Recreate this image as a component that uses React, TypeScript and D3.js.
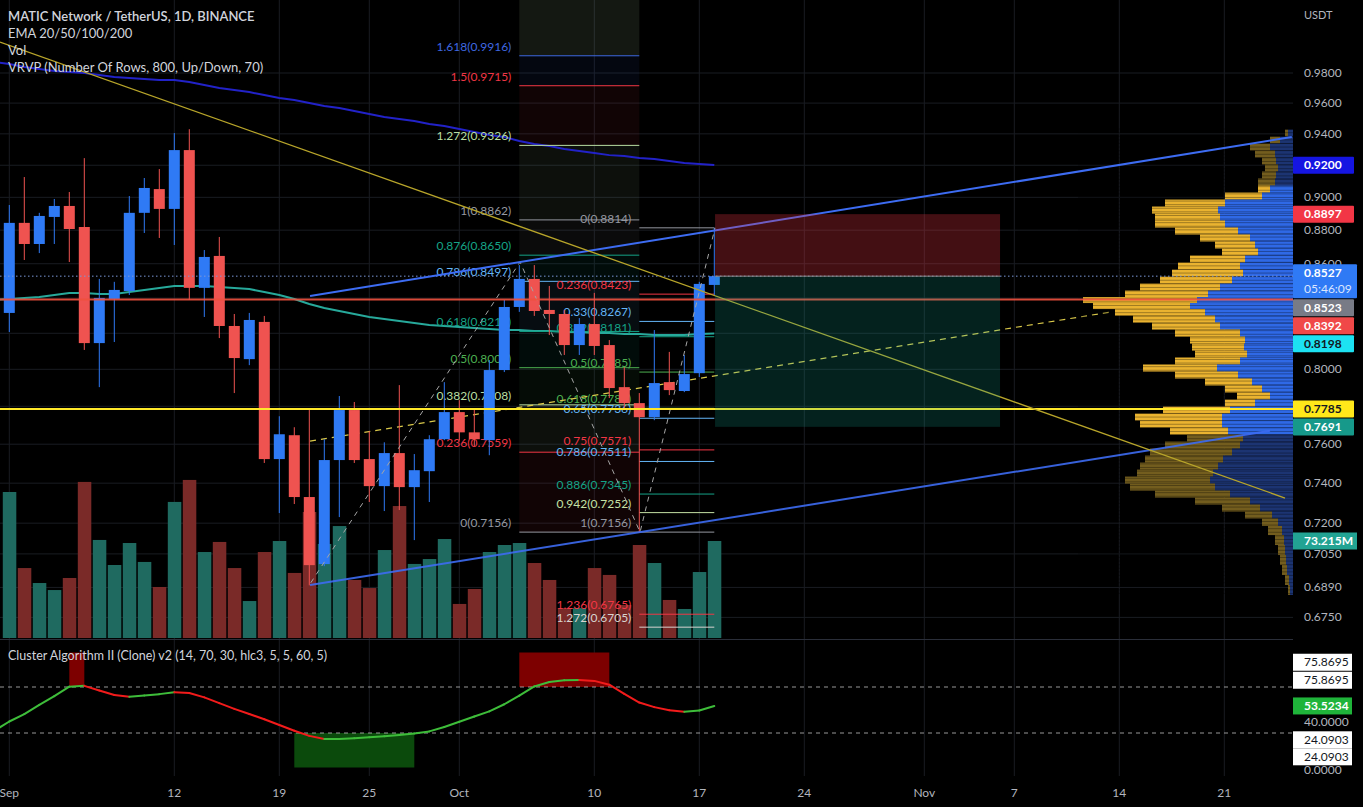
import * as d3 from "d3";

// ---- data (MATICUSDT 1D, Sep 1 .. Oct 18 2022) ----
const opens = [0.8315, 0.8844, 0.8717, 0.888, 0.8947, 0.8819, 0.8145, 0.8395, 0.8441, 0.8905, 0.9051, 0.8929, 0.9296, 0.8459, 0.8646, 0.8241, 0.8056, 0.8264, 0.7523, 0.7647, 0.733, 0.7001, 0.7518, 0.778, 0.7523, 0.7385, 0.7554, 0.738, 0.7461, 0.7626, 0.7769, 0.7662, 0.7621, 0.7996, 0.8349, 0.8511, 0.8332, 0.8309, 0.8134, 0.8252, 0.8134, 0.7903, 0.7817, 0.7742, 0.793, 0.7882, 0.7979, 0.8476];
const highs = [0.8953, 0.9126, 0.8905, 0.899, 0.9033, 0.9245, 0.8511, 0.8494, 0.9008, 0.912, 0.9176, 0.9405, 0.943, 0.8681, 0.8759, 0.8309, 0.8315, 0.8298, 0.7747, 0.7689, 0.778, 0.7626, 0.7855, 0.7823, 0.7668, 0.761, 0.7914, 0.7549, 0.7647, 0.793, 0.7833, 0.779, 0.8051, 0.8389, 0.8592, 0.8592, 0.847, 0.8332, 0.8286, 0.843, 0.8162, 0.8012, 0.7871, 0.8218, 0.8096, 0.8079, 0.8494, 0.8814];
const lows = [0.8207, 0.8622, 0.8663, 0.8717, 0.861, 0.8107, 0.7903, 0.8151, 0.8418, 0.8783, 0.8753, 0.8711, 0.8389, 0.8292, 0.8173, 0.7871, 0.8023, 0.7503, 0.725, 0.7295, 0.69, 0.6991, 0.723, 0.7503, 0.7305, 0.726, 0.7265, 0.7117, 0.7305, 0.7621, 0.7621, 0.759, 0.7543, 0.7985, 0.8321, 0.8298, 0.819, 0.8079, 0.8079, 0.8079, 0.7844, 0.778, 0.7156, 0.7726, 0.786, 0.7876, 0.7958, 0.8418];
const closes = [0.8844, 0.8717, 0.8886, 0.8947, 0.8807, 0.8145, 0.8401, 0.8447, 0.8905, 0.9058, 0.8929, 0.9296, 0.8459, 0.864, 0.8241, 0.8062, 0.8275, 0.7523, 0.7652, 0.733, 0.6996, 0.7518, 0.778, 0.7518, 0.7385, 0.7554, 0.738, 0.7466, 0.7626, 0.7769, 0.7662, 0.7626, 0.7996, 0.8349, 0.8511, 0.8326, 0.8309, 0.8134, 0.8252, 0.8129, 0.7898, 0.7817, 0.7742, 0.7925, 0.7887, 0.7974, 0.8482, 0.8527];
// volume in millions
const volumes = [110.2, 52.8, 41.5, 36.2, 45.3, 117.8, 74.0, 55.1, 71.7, 57.4, 38.5, 102.7, 119.3, 64.9, 72.5, 52.8, 27.9, 64.9, 73.2, 49.1, 95.1, 71.0, 84.5, 43.8, 37.7, 66.4, 99.6, 55.9, 59.6, 74.7, 25.7, 37.0, 64.9, 70.2, 71.7, 56.6, 43.8, 22.6, 22.6, 52.8, 47.6, 24.9, 70.2, 56.6, 28.7, 21.9, 49.8, 73.215];
// these start one day earlier (Aug 31)
const emaFast = [0.839, 0.8395, 0.84, 0.8406, 0.8418, 0.8429, 0.8429, 0.8423, 0.8423, 0.8435, 0.8446, 0.8458, 0.847, 0.847, 0.847, 0.8464, 0.8458, 0.8452, 0.8435, 0.8418, 0.8395, 0.8366, 0.8343, 0.8326, 0.8309, 0.8292, 0.828, 0.8269, 0.8258, 0.8246, 0.8241, 0.8235, 0.823, 0.8224, 0.8218, 0.8218, 0.8213, 0.8213, 0.8207, 0.8207, 0.8201, 0.8201, 0.8196, 0.8196, 0.819, 0.819, 0.819, 0.8196, 0.8198];
const emaSlow = [0.9874, 0.9861, 0.984, 0.9827, 0.9813, 0.9807, 0.98, 0.9787, 0.9773, 0.9767, 0.976, 0.9753, 0.9753, 0.974, 0.972, 0.97, 0.9687, 0.9673, 0.9653, 0.9634, 0.962, 0.9601, 0.9581, 0.9568, 0.9548, 0.9529, 0.9509, 0.9496, 0.9483, 0.9464, 0.9451, 0.9431, 0.9412, 0.9393, 0.938, 0.9354, 0.9335, 0.9322, 0.9303, 0.929, 0.9277, 0.9264, 0.9258, 0.9246, 0.924, 0.9227, 0.9214, 0.9208, 0.9201];
const cluster = [32, 40, 46.5, 54.5, 62, 70.3, 71, 67, 63, 61.6, 62.6, 63.8, 65.4, 64.8, 61, 56, 51, 46.5, 42, 37, 32, 27.5, 24.8, 24.8, 25.5, 26.3, 27.2, 28.3, 29.6, 31.4, 35.2, 39.8, 44.3, 48.8, 55, 62.5, 70.5, 74.4, 75.8, 76, 75.3, 72, 64, 56.5, 52.5, 49.8, 48.5, 49.5, 53.5];

// cluster zones: [fromDay, toDay, top, bottom]
const obZones = [[4, 5, 100, 70], [34, 40, 100, 70]];
const osZones = [[19, 27, 30, 0]];

// visible range volume profile rows
const vpPrice = [0.9405, 0.936, 0.9316, 0.9271, 0.9227, 0.9183, 0.9139, 0.9095, 0.9051, 0.9008, 0.8965, 0.8922, 0.8879, 0.8837, 0.8795, 0.8753, 0.8711, 0.8669, 0.8628, 0.8586, 0.8545, 0.8504, 0.8464, 0.8423, 0.8389, 0.8354, 0.832, 0.828, 0.8241, 0.8201, 0.8162, 0.8123, 0.8084, 0.8046, 0.8007, 0.7969, 0.7931, 0.7893, 0.7855, 0.7817, 0.778, 0.7743, 0.7706, 0.7669, 0.7632, 0.7596, 0.7559, 0.7523, 0.7487, 0.7451, 0.7416, 0.738, 0.7345, 0.731, 0.7275, 0.724, 0.7206, 0.7166, 0.7117, 0.7069, 0.702, 0.6973, 0.6925, 0.6878];
const vpUp = [2.5, 6.5, 11.5, 9, 8.5, 7.5, 8.5, 9, 11.5, 15.5, 34, 37.5, 36.5, 34, 27.5, 21.5, 19, 17.5, 24, 26.5, 25, 30.5, 36.5, 42.5, 48, 51.5, 44, 39, 36.5, 26.5, 24, 24.5, 23, 26.5, 38, 27.5, 20.5, 15.5, 11.5, 19, 31.5, 35.5, 35.5, 32.5, 25, 26.5, 30.5, 35, 37.5, 40, 41.5, 39, 31.5, 21.5, 16.5, 10.5, 7.5, 5.5, 4.5, 4, 3.5, 3, 2, 1.5];
const vpDown = [1.5, 5, 10, 10, 7, 6.5, 7, 8.5, 6, 18.5, 30, 33, 32.5, 35, 31.5, 25, 20, 18, 27.5, 31, 35.5, 36, 40, 41.5, 57, 48.5, 45, 41, 34, 32.5, 27.5, 26, 26, 32.5, 37, 31.5, 23.5, 18.5, 16.5, 15, 33.5, 43.5, 41, 29, 28, 37.5, 41, 39, 39, 38, 42.5, 42.5, 37.5, 27.5, 19, 13.5, 8, 7, 4.5, 3.5, 3, 2.5, 2, 1];
const vaHigh = 0.9051;
const vaLow = 0.7669;

// drawings: [day offset from Sep 1, price]
const trendYellow = [[-0.62, 1.001], [85.05, 0.7325]];
const channelUpper = [[20.05, 0.8412], [85.5, 0.938]];
const channelLower = [[20.05, 0.6901], [84.05, 0.767]];
const channelMid = [[20.05, 0.7616], [73.4, 0.832]];
const zigzag = [[20.1, 0.6912], [34.05, 0.861], [42.05, 0.7156], [47.05, 0.8814]];

const fibA = { from: 34, to: 42, p0: 0.7156, p1: 0.8862 };
const fibALevels = [0, 0.236, 0.382, 0.5, 0.618, 0.786, 0.876, 1, 1.272, 1.5, 1.618];
const fibAColors = ["#9598a1", "#f23645", "#b9dfa3", "#4caf50", "#15a387", "#64b5f6", "#15a387", "#9598a1", "#b9dfa3", "#f23645", "#3f68e0"];
const fibB = { from: 42, to: 47, p0: 0.8814, p1: 0.7156 };
const fibBLevels = [0, 0.236, 0.33, 0.382, 0.5, 0.618, 0.65, 0.75, 0.786, 0.886, 0.942, 1, 1.236, 1.272];
const fibBColors = ["#9598a1", "#f23645", "#64b5f6", "#15a387", "#4caf50", "#4caf50", "#64b5f6", "#f23645", "#64b5f6", "#15a387", "#c5e1a5", "#9598a1", "#f23645", "#d8d4d0"];

const position = { from: 47.05, to: 66.05, stop: 0.8897, entry: 0.8527, target: 0.7691 };
const hLineRed = 0.8392;
const hLineYellow = 0.7785;

const priceTicks = [0.98, 0.96, 0.94, 0.92, 0.9, 0.88, 0.86, 0.84, 0.82, 0.8, 0.78, 0.76, 0.74, 0.72, 0.705, 0.689, 0.675];
const priceTickHidden = [0.92, 0.84, 0.82, 0.78];
const timeTicks = [["2022-09-01", "Sep"], ["2022-09-12", "12"], ["2022-09-19", "19"], ["2022-09-25", "25"], ["2022-10-01", "Oct"], ["2022-10-10", "10"], ["2022-10-17", "17"], ["2022-10-24", "24"], ["2022-11-01", "Nov"], ["2022-11-07", "7"], ["2022-11-14", "14"], ["2022-11-21", "21"]];

const badgeValues = [0.92, 0.8897, 0.8527, 0.8523, 0.8392, 0.8198, 0.7785, 0.7691];
const badgeBg = ["#1515e2", "#f23645", "#2f7af5", "#787b86", "#f04848", "#1ce2f2", "#ffe81a", "#16998a"];
const badgeFg = ["#fff", "#fff", "#fff", "#fff", "#fff", "#131722", "#131722", "#fff"];

// ---- layout ----
const W = 1363;
const H = 807;
const RIGHT = 1293;
const MAIN_BOTTOM = 638;
const FONT = "Lato, 'Open Sans', 'DejaVu Sans', sans-serif";
const DAY = 86400000;
const START = Date.UTC(2022, 8, 1);
const at = (d: number) => new Date(START + d * DAY);
const parse = d3.utcParse("%Y-%m-%d");

const x = d3.scaleUtc().domain([at(0), at(86)]).range([9.3, 9.3 + 15 * 86]);
const y = d3.scaleLog().domain([0.98, 0.675]).range([73, 617.4]);
const yVol = d3.scaleLinear().domain([0, 73.215]).range([MAIN_BOTTOM, 541]);
const yOsc = d3.scaleLinear().domain([0, 100]).range([767.5, 652.5]);
const wVP = d3.scaleLinear().domain([0, 105]).range([0, 210]);

const xd = (d: number) => x(at(d));
const seg = d3.line<number[]>().x((p) => xd(p[0])).y((p) => y(p[1]));

export default function App() {
  const days = opens.map((_, i) => i);

  const emaFastPath = seg(emaFast.map((v, i) => [i - 1, v])) ?? "";
  const emaSlowPath = seg(emaSlow.map((v, i) => [i - 1, v])) ?? "";

  const fibPrice = (f: typeof fibA, l: number) => f.p0 + l * (f.p1 - f.p0);

  // price badges, pushed apart like the axis does
  const badges = badgeValues
    .map((v, i) => ({ v, i, cy: y(v) }))
    .sort((a, b) => a.cy - b.cy);
  let lastBottom = -Infinity;
  const placed = badges.map((b) => {
    const two = b.v === 0.8527;
    const h = two ? 34 : 17;
    let top = two ? b.cy - 12 : b.cy - 8.5;
    if (top < lastBottom + 1) top = lastBottom + 1;
    lastBottom = top + h;
    return { ...b, top, h, two };
  });

  const oscLine = d3
    .line<number[]>()
    .x((p) => xd(p[0]))
    .y((p) => yOsc(p[1]));

  const vpTop = y(vpPrice[0]) - 4;
  const vpBottom = y(vpPrice[vpPrice.length - 1]) + 4;
  const texture = d3.range(vpTop, vpBottom, 3.6);

  return (
    <div style={{ position: "absolute", left: 0, top: 0, width: W, height: H, background: "#000" }}>
      <svg width={W} height={H} style={{ display: "block", fontFamily: FONT }}>
        <defs>
          <clipPath id="main">
            <rect x={0} y={0} width={RIGHT} height={MAIN_BOTTOM} />
          </clipPath>
          <clipPath id="osc">
            <rect x={0} y={640} width={RIGHT} height={136} />
          </clipPath>
        </defs>
        <rect width={W} height={H} fill="#000" />

        {/* grid */}
        <g stroke="#191c22" strokeWidth={1}>
          {timeTicks.map(([d]) => {
            const gx = x(parse(d)!);
            return <line key={d} x1={gx} x2={gx} y1={0} y2={776} />;
          })}
          {priceTicks.map((p) => (
            <line key={p} x1={0} x2={RIGHT} y1={y(p)} y2={y(p)} />
          ))}
        </g>

        <g clipPath="url(#main)">
          {/* fib A shading */}
          <rect
            x={xd(fibA.from)}
            width={xd(fibA.to) - xd(fibA.from)}
            y={0}
            height={y(fibPrice(fibA, 1.618))}
            fill="#b9dfa3"
            opacity={0.11}
          />
          {fibALevels.slice(1).map((l, k) => {
            const yTop = y(fibPrice(fibA, l));
            const yBot = y(fibPrice(fibA, fibALevels[k]));
            return (
              <rect
                key={l}
                x={xd(fibA.from)}
                width={xd(fibA.to) - xd(fibA.from)}
                y={yTop}
                height={yBot - yTop}
                fill={fibAColors[k + 1]}
                opacity={0.07}
              />
            );
          })}

          {/* volume */}
          {days.map((i) => (
            <rect
              key={i}
              x={xd(i) - 6.5}
              width={13.5}
              y={yVol(volumes[i])}
              height={MAIN_BOTTOM - yVol(volumes[i])}
              fill={closes[i] >= opens[i] ? "#1f6a60" : "#7a2a28"}
            />
          ))}

          {/* EMAs */}
          <path d={emaSlowPath} fill="none" stroke="#2222c8" strokeWidth={2} />
          <path d={emaFastPath} fill="none" stroke="#27a99b" strokeWidth={2} />

          {/* fib lines + labels */}
          {fibALevels.map((l, k) => {
            const p = fibPrice(fibA, l);
            return (
              <g key={"a" + l}>
                <line x1={xd(fibA.from)} x2={xd(fibA.to)} y1={y(p)} y2={y(p)} stroke={fibAColors[k]} strokeWidth={1} />
                <text x={xd(fibA.from) - 8} y={y(p) - 5} textAnchor="end" fontSize={12} fill={fibAColors[k]}>
                  {`${l}(${p.toFixed(4)})`}
                </text>
              </g>
            );
          })}
          {fibBLevels.map((l, k) => {
            const p = fibPrice(fibB, l);
            return (
              <g key={"b" + l}>
                <line x1={xd(fibB.from)} x2={xd(fibB.to)} y1={y(p)} y2={y(p)} stroke={fibBColors[k]} strokeWidth={1} />
                <text x={xd(fibB.from) - 8} y={y(p) - 5} textAnchor="end" fontSize={12} fill={fibBColors[k]}>
                  {`${l}(${p.toFixed(4)})`}
                </text>
              </g>
            );
          })}

          {/* channel midline (dashed) */}
          <path d={seg(channelMid) ?? ""} stroke="#d9c84a" strokeWidth={1.2} strokeDasharray="6 5" fill="none" />

          {/* candles */}
          {days.map((i) => {
            const up = closes[i] >= opens[i];
            const c = up ? "#2f7af5" : "#ef5350";
            const top = y(Math.max(opens[i], closes[i]));
            const bot = y(Math.min(opens[i], closes[i]));
            return (
              <g key={i}>
                <line x1={xd(i)} x2={xd(i)} y1={y(highs[i])} y2={y(lows[i])} stroke={c} strokeWidth={1} />
                <rect x={xd(i) - 5.5} width={11} y={top} height={Math.max(1.5, bot - top)} fill={c} />
              </g>
            );
          })}

          {/* zigzag */}
          <path d={seg(zigzag) ?? ""} stroke="#a6a6a6" strokeWidth={1} strokeDasharray="5 5" fill="none" />

          {/* volume profile */}
          {vpPrice.map((p, i) => {
            const cy = y(p);
            const prev = i > 0 ? y(vpPrice[i - 1]) : cy - (y(vpPrice[1]) - cy);
            const next = i < vpPrice.length - 1 ? y(vpPrice[i + 1]) : cy + (cy - prev);
            const t = (prev + cy) / 2;
            const b = (cy + next) / 2;
            const inVA = p <= vaHigh && p >= vaLow;
            const upW = wVP(vpUp[i]);
            const dnW = wVP(vpDown[i]);
            return (
              <g key={p}>
                <rect x={RIGHT - upW} width={upW} y={t} height={b - t} fill={inVA ? "#2f69e6" : "#1c3472"} />
                <rect x={RIGHT - upW - dnW} width={dnW} y={t} height={b - t} fill={inVA ? "#eab330" : "#735d1e"} />
              </g>
            );
          })}
          <g stroke="#000" strokeWidth={0.7} opacity={0.45}>
            {texture.map((ty) => (
              <line key={ty} x1={RIGHT - 215} x2={RIGHT} y1={ty} y2={ty} />
            ))}
          </g>

          {/* horizontal lines */}
          <line x1={0} x2={RIGHT} y1={y(hLineRed)} y2={y(hLineRed)} stroke="#f0513f" strokeWidth={2} opacity={0.9} />
          <line x1={0} x2={RIGHT} y1={y(hLineYellow)} y2={y(hLineYellow)} stroke="#ffe82a" strokeWidth={2} />
          <line x1={0} x2={RIGHT} y1={y(0.8527)} y2={y(0.8527)} stroke="#7c98d8" strokeWidth={1} strokeDasharray="1.5 2.5" />

          {/* trend lines */}
          <path d={seg(channelUpper) ?? ""} stroke="#3d6cf2" strokeWidth={2} fill="none" />
          <path d={seg(channelLower) ?? ""} stroke="#3d6cf2" strokeWidth={2} fill="none" opacity={0.9} />
          <path d={seg(trendYellow) ?? ""} stroke="#b8a52a" strokeWidth={1.3} fill="none" />

          {/* short position */}
          <rect
            x={xd(position.from)}
            width={xd(position.to) - xd(position.from)}
            y={y(position.stop)}
            height={y(position.entry) - y(position.stop)}
            fill="rgba(242,54,69,0.28)"
          />
          <rect
            x={xd(position.from)}
            width={xd(position.to) - xd(position.from)}
            y={y(position.entry)}
            height={y(position.target) - y(position.entry)}
            fill="rgba(20,170,150,0.2)"
          />
          <line x1={xd(position.from)} x2={xd(position.to)} y1={y(position.entry)} y2={y(position.entry)} stroke="#8c8c8c" />
        </g>

        {/* legend */}
        <g fill="#d1d4dc" fontSize={13}>
          <text x={8} y={21} fontWeight={600}>MATIC Network / TetherUS, 1D, BINANCE</text>
          <text x={8} y={38}>EMA 20/50/100/200</text>
          <text x={8} y={55}>Vol</text>
          <text x={8} y={72}>VRVP (Number Of Rows, 800, Up/Down, 70)</text>
        </g>

        {/* pane separator */}
        <line x1={0} x2={W} y1={639.5} y2={639.5} stroke="#2a2e39" />

        {/* cluster oscillator */}
        <g clipPath="url(#osc)">
          {obZones.map((z, k) => (
            <rect key={"ob" + k} x={xd(z[0])} width={xd(z[1]) - xd(z[0])} y={yOsc(z[2])} height={yOsc(z[3]) - yOsc(z[2])} fill="#7d0000" />
          ))}
          {osZones.map((z, k) => (
            <rect key={"os" + k} x={xd(z[0])} width={xd(z[1]) - xd(z[0])} y={yOsc(z[2])} height={yOsc(z[3]) - yOsc(z[2])} fill="#0b4a0c" />
          ))}
          {[70, 30].map((v) => (
            <line key={v} x1={0} x2={RIGHT} y1={yOsc(v)} y2={yOsc(v)} stroke="#bdbdbd" strokeDasharray="4 4" opacity={0.8} />
          ))}
          {cluster.slice(1).map((v, k) => (
            <path
              key={k}
              d={oscLine([[k - 1, cluster[k]], [k, v]]) ?? ""}
              stroke={v >= cluster[k] ? "#3ebd3a" : "#f21b1b"}
              strokeWidth={2}
              fill="none"
              strokeLinecap="round"
            />
          ))}
        </g>
        <text x={8} y={660} fontSize={12.5} fill="#d1d4dc">
          Cluster Algorithm II (Clone) v2 (14, 70, 30, hlc3, 5, 5, 60, 5)
        </text>

        {/* time axis */}
        <g fontSize={12} fill="#b2b5be" textAnchor="middle">
          {timeTicks.map(([d, label]) => (
            <text key={d} x={x(parse(d)!)} y={797}>
              {label}
            </text>
          ))}
        </g>

        {/* price axis */}
        <rect x={RIGHT} y={0} width={W - RIGHT} height={776} fill="#000" />
        <text x={1304} y={19} fontSize={11} fill="#b2b5be">USDT</text>
        <g fontSize={12} fill="#b2b5be">
          {priceTicks
            .filter((p) => !priceTickHidden.includes(p))
            .map((p) => (
              <text key={p} x={1304} y={y(p) + 4}>
                {p.toFixed(4)}
              </text>
            ))}
        </g>
        {placed.map((b) => (
          <g key={b.v}>
            <rect x={RIGHT} y={b.top} width={b.two ? 64 : 61} height={b.h} fill={badgeBg[b.i]} rx={1} />
            <text x={1304} y={b.top + 12.5} fontSize={12} fontWeight={700} fill={badgeFg[b.i]}>
              {b.v.toFixed(4)}
            </text>
            {b.two && (
              <text x={1304} y={b.top + 28.5} fontSize={12} fill="#dbe6ff">
                05:46:09
              </text>
            )}
          </g>
        ))}
        <rect x={RIGHT} y={yVol(73.215) - 8.5} width={64} height={17} fill="#22a393" />
        <text x={1304} y={yVol(73.215) + 4} fontSize={12} fontWeight={700} fill="#fff">73.215M</text>

        {/* oscillator axis */}
        <g fontSize={12} fill="#b2b5be">
          <text x={1304} y={yOsc(40) + 4}>40.0000</text>
          <text x={1304} y={yOsc(0) + 6}>0.0000</text>
        </g>
        {[
          [75.8695, -18],
          [75.8695, 0],
          [24.0903, 0],
          [24.0903, 17],
        ].map(([v, off], k) => (
          <g key={k}>
            <rect x={RIGHT} y={yOsc(v) + off - 8.5} width={59} height={17} fill="#fff" />
            <text x={1304} y={yOsc(v) + off + 4} fontSize={12} fill="#131722">
              {v.toFixed(4)}
            </text>
          </g>
        ))}
        <rect x={RIGHT} y={yOsc(53.5234) - 8.5} width={59} height={17} fill="#1fb43a" />
        <text x={1304} y={yOsc(53.5234) + 4} fontSize={12} fontWeight={700} fill="#fff">53.5234</text>
      </svg>
    </div>
  );
}
